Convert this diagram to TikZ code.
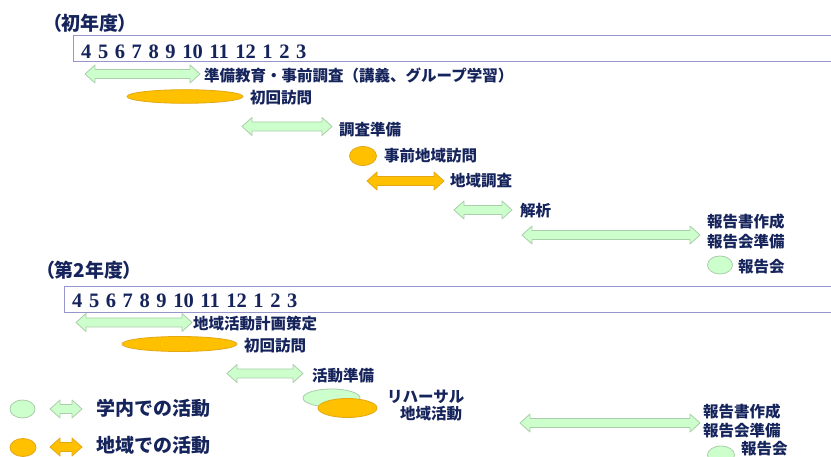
\documentclass[tikz,border=0pt]{standalone}
\usepackage{fontspec}
\setmainfont{Noto Sans CJK JP}
\newfontfamily\numfont{Liberation Serif}
\definecolor{navy}{RGB}{22,36,92}
\definecolor{gfill}{RGB}{204,255,204}
\definecolor{gline}{RGB}{170,205,170}
\definecolor{ofill}{RGB}{255,192,0}
\definecolor{oline}{RGB}{228,168,20}
\definecolor{boxline}{RGB}{150,150,205}
\tikzset{
  lbl/.style={anchor=west, inner sep=0pt, text=navy, font=\fontsize{15.5}{16}\selectfont\bfseries},
  ttl/.style={anchor=west, inner sep=0pt, text=navy, font=\fontsize{19}{20}\selectfont\bfseries\addfontfeatures{RawFeature=+palt}},
  leg/.style={anchor=west, inner sep=0pt, text=navy, font=\fontsize{19}{20}\selectfont\bfseries},
  nums/.style={anchor=base west, inner sep=0pt, text=navy, font=\numfont\bfseries\fontsize{20.5}{21}\selectfont},
  gstyle/.style={fill=gfill, draw=gline, line width=0.8pt, line join=round},
  ostyle/.style={fill=ofill, draw=oline, line width=0.8pt, line join=round},
  monthbox/.style={draw=boxline, line width=1pt}
}
% double arrow: style, x1, x2, y
\newcommand\dblarr[4]{%
  \draw[#1] (#2,#4) -- (#2+10,#4-9) -- (#2+10,#4-4.5) -- (#3-10,#4-4.5) -- (#3-10,#4-9)
    -- (#3,#4) -- (#3-10,#4+9) -- (#3-10,#4+4.5) -- (#2+10,#4+4.5) -- (#2+10,#4+9) -- cycle;}
\newcommand\mnums{4\hspace*{6.6pt}5\hspace*{6.6pt}6\hspace*{6.6pt}7\hspace*{6.6pt}8\hspace*{6.6pt}9\hspace*{6.6pt}10\hspace*{6.6pt}11\hspace*{6.6pt}12\hspace*{6.6pt}1\hspace*{6.6pt}2\hspace*{6.6pt}3}
\begin{document}
\begin{tikzpicture}[x=1pt,y=-1pt]
\useasboundingbox[fill=white] (0,0) rectangle (831,457);
% ---------- Year 1 ----------
\node[ttl] (t1) at (52,23) {（初年度）};
\draw[monthbox] (73,35.5) rectangle (845,61.5);
\node[nums] (n1) at (81,59) {\mnums};
\dblarr{gstyle}{85}{200}{74}
\node[lbl] (a1) at (204,75.5) {準備教育・事前調査（講義、グループ学習）};
\draw[ostyle] (185,96.5) ellipse [x radius=58, y radius=6.8];
\node[lbl] (a2) at (250,97.5) {初回訪問};
\dblarr{gstyle}{242}{332}{126.5}
\node[lbl] (a3) at (339,130) {調査準備};
\draw[ostyle] (363,156) ellipse [x radius=13.5, y radius=9.5];
\node[lbl] (a4) at (384,156) {事前地域訪問};
\dblarr{ostyle}{367}{444}{181}
\node[lbl] (a5) at (450,180.5) {地域調査};
\dblarr{gstyle}{454}{512}{210}
\node[lbl] (a6) at (520,210.5) {解析};
\dblarr{gstyle}{522}{700}{235}
\node[lbl] (a7) at (707,222) {報告書作成};
\node[lbl] (a8) at (707,242) {報告会準備};
\draw[gstyle] (720,265) ellipse [x radius=12.5, y radius=9];
\node[lbl] (a9) at (738,266.5) {報告会};
% ---------- Year 2 ----------
\node[ttl] (t2) at (45,270.5) {（第2年度）};
\draw[monthbox] (64,287) rectangle (845,312.5);
\node[nums] (n2) at (72,308) {\mnums};
\dblarr{gstyle}{76}{192}{322.5}
\node[lbl] (b1) at (193,323.5) {地域活動計画策定};
\draw[ostyle] (179.5,344) ellipse [x radius=57.5, y radius=7.5];
\node[lbl] (b2) at (244,346) {初回訪問};
\dblarr{gstyle}{227}{303}{373.5}
\node[lbl] (b3) at (312,375.5) {活動準備};
\draw[gstyle] (331.5,398) ellipse [x radius=28.5, y radius=9];
\draw[ostyle] (347.5,408) ellipse [x radius=29.5, y radius=9.5];
\node[lbl] (b4) at (387,397) {リハーサル};
\node[lbl] (b5) at (400,414) {地域活動};
\dblarr{gstyle}{520}{700}{423}
\node[lbl] (b6) at (703,412) {報告書作成};
\node[lbl] (b7) at (703,430.5) {報告会準備};
\draw[gstyle] (721,455) ellipse [x radius=13.5, y radius=9];
\node[lbl] (b8) at (741,448.5) {報告会};
% ---------- Legend ----------
\draw[gstyle] (22.5,409) ellipse [x radius=12.5, y radius=9];
\dblarr{gstyle}{50}{82}{409}
\node[leg] (l1) at (96,408.5) {学内での活動};
\draw[ostyle] (23,447.5) ellipse [x radius=13, y radius=9];
\dblarr{ostyle}{50}{82}{447}
\node[leg] (l2) at (96,445) {地域での活動};
\end{tikzpicture}
\end{document}
